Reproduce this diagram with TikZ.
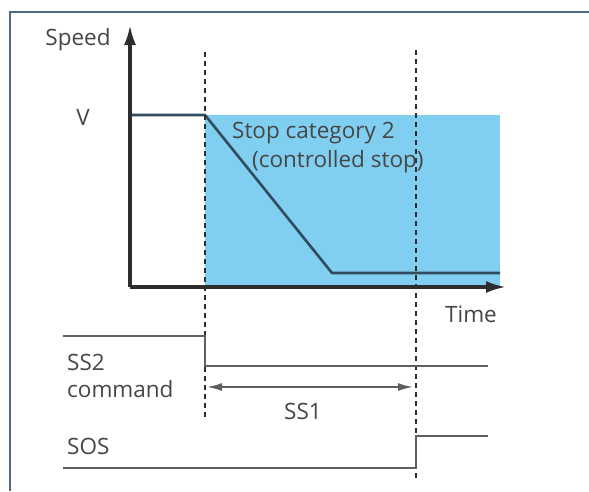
\documentclass[tikz,border=0pt]{standalone}
\usepackage{fontspec}
\setmainfont{Open Sans}
\usetikzlibrary{arrows.meta}
\definecolor{framec}{RGB}{80,105,135}
\definecolor{fillc}{RGB}{128,207,240}
\definecolor{axisc}{RGB}{45,45,45}
\definecolor{sigc}{RGB}{95,95,95}
\definecolor{profc}{RGB}{50,75,95}
\definecolor{txtc}{RGB}{70,70,70}
\begin{document}
\begin{tikzpicture}[x=1pt,y=-1pt,
  lbl/.style={font=\fontsize{22.5}{25}\selectfont, text=txtc, inner sep=0pt},
  axisline/.style={draw=axisc, line width=3.2pt},
  sigline/.style={draw=sigc, line width=2.6pt},
  guide/.style={draw=axisc, line width=1.4pt, dash pattern=on 5pt off 4pt},
  arr/.style={-{Latex[length=20pt,width=12pt]}},
  darr/.style={{Latex[length=15pt,width=8pt]}-{Latex[length=15pt,width=8pt]}}]
\useasboundingbox (0,0) rectangle (589,491);
\fill[white] (0,0) rectangle (589,491);
% frame
\draw[framec, line width=2.2pt] (10,491) -- (10,12) -- (589,12);
% shaded region
\fill[fillc] (205,115) rectangle (500,287);
% coordinates
\coordinate (o) at (130,287);
\coordinate (ytop) at (130,25);
\coordinate (xend) at (506,287);
\coordinate (v0) at (130,115);
\coordinate (v1) at (205,115);
\coordinate (v2) at (332,273);
\coordinate (v3) at (500,273);
\coordinate (d1t) at (205,52);
\coordinate (d1b) at (205,418);
\coordinate (d2t) at (416,50);
\coordinate (d2b) at (416,478);
% speed profile
\draw[profc, line width=2.6pt, line join=round] (v0) -- (v1) -- (v2) -- (v3);
% axes
\draw[axisline, arr] (o) -- (ytop);
\draw[axisline, arr] (o) -- (xend);
% dashed guides
\draw[guide] (d1t) -- (d1b);
\draw[guide] (d2t) -- (d2b);
% labels
\node[lbl] (speed) at (78,40) {Speed};
\node[lbl] (vlab) at (83,117) {V};
\node[lbl, anchor=west] (cat) at (232,133) {Stop category 2};
\node[lbl, anchor=west] (ctrl) at (252,162) {(controlled stop)};
\node[lbl] (time) at (471,314) {Time};
\node[lbl, anchor=west] (ss2) at (67,362) {SS2};
\node[lbl, anchor=west] (cmd) at (67,389) {command};
\node[lbl, anchor=west] (sos) at (67,446) {SOS};
% SS2 command signal
\coordinate (a0) at (63,336);
\coordinate (a1) at (205,336);
\coordinate (a2) at (205,366);
\coordinate (a3) at (488,366);
\draw[sigline] (a0) -- (a1) -- (a2) -- (a3);
% SS1 interval
\coordinate (s0) at (207,387);
\coordinate (s1) at (413,387);
\draw[sigc, line width=1.8pt, darr] (s0) -- (s1);
\node[lbl] (ss1) at (303,411) {SS1};
% SOS signal
\coordinate (b0) at (63,468);
\coordinate (b1) at (416,468);
\coordinate (b2) at (416,436);
\coordinate (b3) at (488,436);
\draw[sigline] (b0) -- (b1) -- (b2) -- (b3);
\end{tikzpicture}
\end{document}
